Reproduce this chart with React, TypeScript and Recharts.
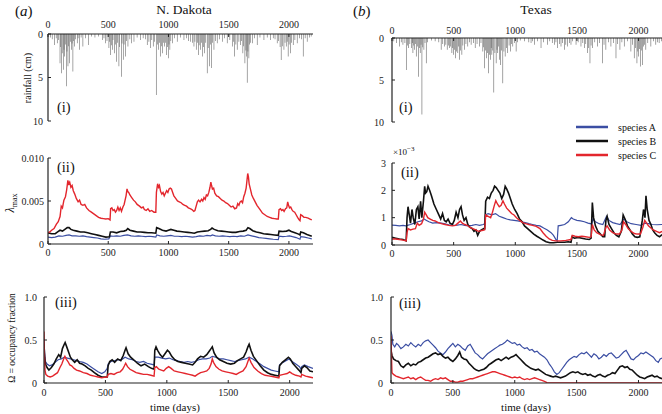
import React from 'react';
import { BarChart, Bar, LineChart, Line, XAxis, YAxis } from 'recharts';

type Pt = [number, number];

const dayTicks = [0, 500, 1000, 1500, 2000];
const rainTicks = [0, 5, 10];
const lambdaNDTicks = [0, 5, 10]; // in units of 1e-3
const lambdaTXTicks = [0, 1, 2, 3]; // in units of 1e-3
const omegaTicks = [0, 0.5, 1];

const species = [
  { key: 'a', name: 'species A', color: '#3b4ea3', width: 1.2 },
  { key: 'b', name: 'species B', color: '#111111', width: 1.6 },
  { key: 'c', name: 'species C', color: '#e3262d', width: 1.4 },
];

// daily rainfall events [day, cm]
const rainND: Pt[] = [
  [20, 0.4], [35, 0.6], [55, 1.25], [68, 0.5], [77, 1.05], [88, 0.7], [100, 3.35], [105, 1.5], [111, 4.5], [118, 2.2],
  [127, 4.1], [133, 1.8], [138, 2.6], [145, 1.2], [152, 6.0], [158, 2.0], [166, 3.7], [172, 1.4], [180, 3.35], [187, 0.9],
  [194, 1.8], [200, 1.1], [207, 4.3], [214, 0.8], [221, 1.45], [230, 0.6], [243, 1.05], [250, 0.5], [263, 1.8], [275, 0.4],
  [290, 1.45], [310, 0.5], [335, 1.25], [360, 0.3], [390, 0.4], [420, 0.3], [451, 0.7], [465, 0.5], [479, 1.05], [490, 0.8],
  [506, 1.6], [512, 0.9], [520, 2.4], [527, 1.3], [534, 1.8], [540, 0.7], [553, 2.2], [560, 1.2], [570, 3.2], [578, 1.0],
  [589, 3.7], [595, 1.5], [609, 4.9], [615, 1.1], [625, 2.95], [632, 1.2], [645, 2.6], [652, 0.8], [664, 1.45], [680, 0.6],
  [692, 1.05], [714, 0.9], [740, 0.4], [769, 0.7], [790, 0.5], [810, 0.6], [824, 1.25], [838, 0.9], [852, 1.6], [862, 0.7],
  [874, 1.45], [885, 0.9], [899, 7.0], [908, 1.2], [916, 1.8], [925, 1.0], [935, 2.6], [942, 1.4], [949, 2.2], [958, 1.0],
  [968, 1.45], [976, 1.0], [985, 2.4], [992, 1.5], [999, 2.8], [1005, 1.2], [1012, 1.8], [1020, 0.8], [1032, 1.05], [1050, 0.5],
  [1073, 0.9], [1100, 0.4], [1129, 0.7], [1150, 0.5], [1165, 0.8], [1184, 0.9], [1198, 1.0], [1212, 1.45], [1220, 0.9], [1231, 1.8],
  [1240, 1.0], [1248, 2.4], [1255, 1.3], [1267, 1.8], [1275, 1.0], [1284, 2.6], [1292, 1.5], [1300, 2.2], [1310, 1.0], [1322, 4.5],
  [1330, 1.6], [1342, 3.7], [1350, 1.2], [1358, 3.9], [1366, 1.0], [1378, 1.8], [1390, 0.8], [1405, 1.05], [1425, 0.6], [1447, 0.9],
  [1465, 0.5], [1488, 1.05], [1510, 0.7], [1530, 1.45], [1540, 0.9], [1549, 2.6], [1560, 1.2], [1571, 1.8], [1585, 0.9], [1599, 1.25],
  [1608, 0.8], [1618, 2.2], [1625, 1.4], [1635, 3.35], [1643, 1.9], [1648, 2.6], [1654, 5.6], [1660, 2.0], [1668, 2.8], [1675, 1.2],
  [1682, 1.0], [1696, 1.05], [1715, 0.5], [1737, 1.25], [1760, 0.4], [1793, 0.7], [1820, 0.4], [1848, 0.7], [1870, 0.5], [1885, 0.6],
  [1903, 1.05], [1915, 0.8], [1927, 1.5], [1936, 3.0], [1945, 1.4], [1959, 1.8], [1968, 1.0], [1978, 1.45], [1986, 0.9], [1994, 2.6],
  [2002, 1.2], [2014, 2.2], [2022, 1.0], [2036, 1.25], [2050, 0.7], [2069, 1.05], [2090, 0.5], [2105, 0.6], [2119, 2.6], [2135, 0.5],
  [2152, 0.9], [2170, 0.4], [2185, 0.3],
];

const rainTX: Pt[] = [
  [15, 0.4], [35, 0.6], [62, 1.0], [75, 0.5], [89, 0.8], [105, 0.6], [116, 3.8], [125, 0.9], [135, 1.2], [145, 0.7],
  [157, 1.2], [165, 0.6], [170, 1.8], [177, 0.9], [184, 1.4], [190, 0.7], [197, 2.2], [205, 1.0], [216, 4.6], [222, 1.2],
  [229, 1.8], [236, 0.8], [243, 9.1], [250, 1.1], [259, 1.4], [268, 0.6], [278, 3.0], [290, 0.5], [320, 0.3], [350, 0.4],
  [380, 0.5], [399, 1.4], [412, 0.7], [426, 1.0], [437, 0.8], [448, 1.4], [458, 0.9], [467, 1.2], [476, 1.0], [486, 1.8],
  [492, 1.2], [499, 2.0], [507, 1.4], [516, 2.4], [524, 1.6], [534, 1.8], [541, 1.0], [548, 2.6], [556, 1.5], [567, 2.0],
  [575, 0.9], [588, 1.4], [600, 0.7], [615, 1.0], [628, 0.5], [642, 0.8], [660, 0.6], [675, 1.2], [690, 0.7], [710, 1.0],
  [722, 0.6], [737, 1.6], [744, 1.1], [750, 3.6], [758, 1.5], [767, 2.4], [775, 1.8], [783, 4.2], [791, 2.0], [799, 2.6],
  [805, 1.2], [810, 2.0], [818, 1.5], [826, 6.5], [835, 1.8], [845, 3.0], [852, 1.4], [858, 1.8], [866, 1.0], [873, 2.6],
  [880, 3.2], [890, 1.5], [899, 5.4], [908, 1.6], [918, 2.2], [928, 1.2], [939, 1.8], [950, 0.9], [961, 1.6], [970, 0.7],
  [980, 1.0], [992, 0.6], [1007, 1.6], [1020, 0.5], [1040, 0.3], [1075, 0.4], [1110, 0.5], [1128, 0.6], [1140, 0.4], [1155, 0.8],
  [1180, 0.4], [1209, 1.2], [1230, 0.5], [1263, 0.8], [1280, 0.4], [1300, 0.6], [1317, 0.8], [1330, 0.5], [1344, 1.2], [1358, 0.7],
  [1371, 1.0], [1385, 0.6], [1398, 1.4], [1410, 0.8], [1425, 1.0], [1440, 0.6], [1452, 0.8], [1465, 0.4], [1493, 0.8], [1510, 0.5],
  [1533, 1.0], [1548, 0.6], [1560, 1.2], [1572, 0.7], [1587, 1.8], [1596, 1.2], [1606, 3.0], [1615, 0.9], [1628, 1.2], [1645, 0.5],
  [1668, 1.0], [1685, 0.6], [1708, 3.0], [1720, 0.8], [1735, 1.4], [1755, 0.5], [1776, 1.0], [1795, 0.6], [1817, 2.4], [1830, 0.7],
  [1849, 1.4], [1865, 0.5], [1884, 1.0], [1910, 0.4], [1938, 1.6], [1950, 0.8], [1965, 2.4], [1975, 1.2], [1987, 3.0], [1994, 1.6],
  [2000, 2.2], [2007, 1.3], [2014, 3.4], [2022, 1.5], [2032, 3.2], [2040, 1.0], [2050, 0.8], [2059, 1.4], [2075, 0.6], [2100, 1.0],
  [2120, 0.4], [2140, 0.8], [2155, 0.5], [2167, 0.6], [2185, 0.4],
];

// lambda_max, N. Dakota (x 1e-3)
const lamND_A: Pt[] = [
  [0, 0.8], [30, 0.75], [60, 0.8], [90, 0.95], [120, 0.9], [150, 1.0], [175, 1.05], [200, 0.95], [230, 0.95], [260, 0.9],
  [290, 0.95], [320, 0.85], [350, 0.8], [380, 0.75], [410, 0.7], [440, 0.6], [470, 0.55], [505, 0.6], [518, 0.95], [540, 0.9],
  [570, 0.95], [600, 0.9], [630, 1.0], [660, 1.05], [690, 0.95], [720, 0.9], [750, 0.95], [780, 0.9], [810, 0.85], [840, 0.9],
  [870, 0.85], [895, 0.8], [902, 1.05], [930, 0.95], [960, 0.9], [990, 0.95], [1020, 1.0], [1050, 0.9], [1080, 0.9], [1110, 0.85],
  [1140, 0.9], [1170, 0.85], [1200, 0.8], [1230, 0.85], [1260, 0.95], [1290, 0.9], [1320, 1.0], [1350, 0.95], [1365, 1.05], [1390, 0.95],
  [1420, 0.9], [1450, 0.95], [1480, 0.9], [1510, 0.85], [1540, 0.9], [1570, 0.85], [1600, 0.95], [1630, 0.9], [1660, 1.05], [1690, 0.95],
  [1720, 0.85], [1750, 0.75], [1780, 0.7], [1810, 0.65], [1840, 0.6], [1870, 0.55], [1912, 0.5], [1918, 0.9], [1950, 0.85], [1980, 0.9],
  [2005, 0.95], [2030, 0.85], [2060, 0.75], [2092, 0.55], [2098, 0.85], [2130, 0.8], [2160, 0.7], [2190, 0.6],
];
const lamND_B: Pt[] = [
  [0, 1.3], [30, 1.2], [60, 1.2], [80, 1.4], [100, 1.6], [120, 1.5], [140, 1.7], [160, 1.9], [175, 1.9], [190, 1.7],
  [210, 1.6], [240, 1.5], [270, 1.4], [300, 1.4], [330, 1.3], [360, 1.2], [390, 1.1], [420, 1.0], [450, 0.9], [480, 0.8],
  [510, 0.85], [518, 1.4], [540, 1.4], [570, 1.3], [600, 1.45], [630, 1.5], [650, 1.6], [662, 1.8], [680, 1.6], [710, 1.5],
  [740, 1.4], [770, 1.4], [800, 1.35], [830, 1.3], [860, 1.3], [895, 1.25], [902, 1.9], [920, 1.8], [950, 1.6], [980, 1.5],
  [1000, 1.6], [1020, 1.7], [1045, 1.6], [1070, 1.5], [1100, 1.45], [1130, 1.4], [1160, 1.35], [1190, 1.3], [1215, 1.25], [1240, 1.4],
  [1270, 1.45], [1300, 1.5], [1330, 1.55], [1350, 1.7], [1362, 1.85], [1380, 1.7], [1410, 1.55], [1440, 1.5], [1470, 1.45], [1500, 1.4],
  [1530, 1.35], [1560, 1.35], [1590, 1.45], [1620, 1.5], [1645, 1.6], [1660, 1.9], [1675, 1.8], [1700, 1.55], [1730, 1.4], [1760, 1.3],
  [1790, 1.2], [1820, 1.15], [1850, 1.1], [1880, 1.05], [1912, 1.0], [1918, 1.5], [1950, 1.45], [1980, 1.5], [2000, 1.6], [2020, 1.45],
  [2050, 1.3], [2080, 1.15], [2092, 1.05], [2098, 1.4], [2120, 1.3], [2150, 1.1], [2190, 0.9],
];
const lamND_C: Pt[] = [
  [0, 1.3], [15, 1.4], [30, 1.6], [50, 1.8], [70, 2.3], [85, 2.6], [100, 3.2], [110, 4.4], [120, 4.2], [132, 5.1],
  [145, 5.5], [155, 6.3], [165, 7.4], [172, 7.0], [180, 7.2], [190, 6.6], [200, 6.8], [210, 6.2], [222, 5.8], [235, 5.3],
  [250, 4.9], [262, 5.1], [275, 4.6], [290, 4.5], [305, 4.6], [320, 4.2], [340, 3.9], [360, 3.7], [380, 3.5], [400, 3.3],
  [420, 3.1], [440, 3.0], [460, 2.95], [480, 2.9], [500, 2.95], [515, 2.8], [520, 4.1], [530, 4.2], [540, 3.9], [550, 4.0],
  [560, 3.7], [570, 3.9], [580, 4.3], [590, 3.9], [600, 4.2], [610, 3.8], [622, 4.3], [632, 4.6], [640, 5.1], [648, 5.6],
  [656, 6.4], [662, 6.1], [670, 6.0], [680, 5.7], [695, 5.4], [710, 5.1], [725, 4.9], [740, 4.6], [760, 4.4], [775, 4.2],
  [790, 4.3], [800, 4.0], [815, 3.9], [830, 4.1], [845, 3.8], [860, 3.9], [880, 3.7], [895, 3.7], [900, 6.0], [910, 7.0],
  [918, 6.6], [925, 6.8], [935, 6.1], [945, 5.8], [955, 6.0], [965, 5.6], [975, 5.9], [985, 6.2], [995, 6.0], [1005, 6.4],
  [1015, 6.5], [1025, 6.4], [1035, 6.0], [1045, 5.6], [1060, 5.3], [1075, 5.0], [1090, 4.9], [1105, 4.8], [1120, 4.6], [1135, 4.5],
  [1150, 4.4], [1165, 4.2], [1180, 4.1], [1195, 4.0], [1210, 3.8], [1220, 3.9], [1230, 4.4], [1240, 4.9], [1250, 5.1], [1262, 4.9],
  [1275, 5.2], [1285, 5.0], [1295, 5.4], [1305, 5.2], [1315, 5.7], [1325, 5.6], [1335, 6.0], [1345, 6.6], [1352, 7.2], [1358, 6.8],
  [1365, 6.4], [1375, 6.5], [1385, 5.9], [1400, 5.6], [1415, 5.5], [1430, 5.3], [1445, 5.1], [1460, 5.0], [1475, 4.8], [1490, 4.7],
  [1505, 4.5], [1520, 4.3], [1535, 4.4], [1550, 4.1], [1565, 4.2], [1575, 4.7], [1585, 4.5], [1595, 4.9], [1605, 5.0], [1615, 4.8],
  [1625, 5.5], [1635, 5.9], [1645, 6.5], [1652, 7.4], [1658, 8.2], [1664, 7.8], [1670, 7.0], [1680, 6.4], [1692, 5.7], [1705, 5.3],
  [1720, 4.9], [1735, 4.5], [1750, 4.2], [1765, 3.9], [1780, 3.6], [1800, 3.4], [1820, 3.2], [1840, 3.1], [1860, 3.0], [1880, 2.95],
  [1900, 2.9], [1912, 2.9], [1918, 4.0], [1930, 4.1], [1940, 3.9], [1950, 4.0], [1960, 3.8], [1972, 4.1], [1982, 4.2], [1990, 4.9],
  [1997, 4.5], [2005, 4.2], [2015, 4.3], [2025, 4.0], [2035, 3.8], [2048, 3.7], [2060, 3.4], [2072, 3.1], [2085, 2.8], [2092, 2.7],
  [2098, 3.4], [2110, 3.3], [2125, 3.1], [2140, 3.1], [2160, 3.0], [2175, 2.9], [2190, 2.8],
];

// occupancy fraction, N. Dakota
const omND_A: Pt[] = [
  [0, 0.5], [5, 0.35], [12, 0.25], [25, 0.22], [45, 0.2], [65, 0.21], [90, 0.24], [115, 0.27], [140, 0.28], [165, 0.3],
  [190, 0.29], [215, 0.28], [240, 0.27], [265, 0.26], [290, 0.25], [320, 0.24], [350, 0.22], [380, 0.19], [410, 0.16], [440, 0.13],
  [470, 0.11], [495, 0.13], [515, 0.17], [522, 0.22], [545, 0.25], [575, 0.26], [600, 0.27], [630, 0.27], [660, 0.3], [690, 0.28],
  [720, 0.27], [750, 0.25], [780, 0.24], [810, 0.25], [840, 0.23], [870, 0.22], [896, 0.21], [902, 0.3], [930, 0.3], [960, 0.29],
  [990, 0.28], [1020, 0.29], [1050, 0.27], [1080, 0.26], [1110, 0.25], [1140, 0.24], [1170, 0.25], [1200, 0.24], [1230, 0.25], [1260, 0.27],
  [1290, 0.28], [1320, 0.28], [1350, 0.29], [1370, 0.31], [1400, 0.3], [1430, 0.28], [1460, 0.28], [1490, 0.27], [1520, 0.26], [1550, 0.25],
  [1580, 0.26], [1610, 0.27], [1640, 0.28], [1670, 0.3], [1700, 0.28], [1730, 0.25], [1760, 0.22], [1790, 0.19], [1820, 0.17], [1850, 0.15],
  [1880, 0.14], [1912, 0.13], [1918, 0.21], [1945, 0.24], [1970, 0.26], [1995, 0.28], [2020, 0.25], [2050, 0.22], [2080, 0.19], [2092, 0.16],
  [2098, 0.19], [2120, 0.21], [2150, 0.19], [2190, 0.17],
];
const omND_B: Pt[] = [
  [0, 0.45], [5, 0.3], [12, 0.22], [25, 0.18], [40, 0.15], [60, 0.18], [80, 0.22], [100, 0.28], [120, 0.33], [135, 0.3],
  [150, 0.4], [165, 0.45], [172, 0.47], [185, 0.42], [200, 0.36], [215, 0.3], [230, 0.27], [250, 0.24], [270, 0.27], [290, 0.23],
  [310, 0.22], [335, 0.2], [360, 0.17], [385, 0.15], [410, 0.12], [440, 0.09], [470, 0.07], [500, 0.07], [515, 0.07], [522, 0.2],
  [535, 0.25], [555, 0.27], [575, 0.24], [600, 0.28], [625, 0.26], [645, 0.32], [660, 0.38], [668, 0.41], [685, 0.34], [705, 0.3],
  [730, 0.27], [760, 0.23], [790, 0.2], [820, 0.22], [850, 0.19], [875, 0.17], [896, 0.16], [902, 0.38], [912, 0.42], [925, 0.38],
  [945, 0.33], [965, 0.3], [985, 0.34], [1005, 0.38], [1020, 0.36], [1040, 0.31], [1065, 0.27], [1090, 0.25], [1120, 0.24], [1150, 0.23],
  [1180, 0.22], [1210, 0.21], [1230, 0.24], [1250, 0.28], [1275, 0.31], [1300, 0.3], [1325, 0.33], [1345, 0.37], [1360, 0.4], [1370, 0.42],
  [1385, 0.35], [1405, 0.3], [1430, 0.27], [1460, 0.25], [1490, 0.23], [1520, 0.22], [1550, 0.23], [1575, 0.26], [1600, 0.28], [1625, 0.3],
  [1645, 0.36], [1660, 0.42], [1670, 0.45], [1685, 0.38], [1705, 0.31], [1730, 0.26], [1760, 0.2], [1790, 0.15], [1820, 0.12], [1850, 0.1],
  [1880, 0.09], [1912, 0.08], [1918, 0.2], [1940, 0.24], [1965, 0.27], [1990, 0.3], [2005, 0.28], [2025, 0.23], [2050, 0.19], [2075, 0.15],
  [2092, 0.12], [2098, 0.17], [2120, 0.2], [2140, 0.18], [2165, 0.14], [2190, 0.13],
];
const omND_C: Pt[] = [
  [0, 0.6], [3, 0.35], [8, 0.15], [15, 0.1], [30, 0.08], [50, 0.07], [70, 0.08], [90, 0.1], [110, 0.12], [130, 0.18],
  [145, 0.22], [160, 0.28], [170, 0.31], [180, 0.28], [195, 0.25], [210, 0.21], [225, 0.2], [245, 0.17], [265, 0.15], [290, 0.14],
  [320, 0.12], [350, 0.11], [380, 0.09], [410, 0.08], [440, 0.07], [470, 0.06], [500, 0.07], [515, 0.07], [522, 0.1], [545, 0.11],
  [570, 0.1], [595, 0.12], [620, 0.13], [640, 0.16], [655, 0.2], [665, 0.23], [680, 0.19], [700, 0.16], [725, 0.14], [750, 0.12],
  [780, 0.11], [810, 0.1], [840, 0.1], [870, 0.09], [896, 0.08], [902, 0.18], [915, 0.19], [935, 0.16], [955, 0.15], [975, 0.14],
  [995, 0.17], [1015, 0.19], [1035, 0.17], [1060, 0.14], [1090, 0.13], [1120, 0.12], [1150, 0.11], [1180, 0.1], [1210, 0.09], [1230, 0.08],
  [1250, 0.1], [1275, 0.12], [1300, 0.13], [1325, 0.14], [1345, 0.17], [1360, 0.22], [1370, 0.28], [1380, 0.24], [1400, 0.19], [1425, 0.16],
  [1450, 0.14], [1480, 0.13], [1510, 0.12], [1540, 0.11], [1565, 0.1], [1590, 0.12], [1620, 0.14], [1645, 0.19], [1660, 0.25], [1670, 0.29],
  [1685, 0.24], [1710, 0.18], [1740, 0.14], [1770, 0.11], [1800, 0.09], [1840, 0.08], [1880, 0.07], [1912, 0.06], [1918, 0.09], [1950, 0.1],
  [1980, 0.11], [2000, 0.13], [2020, 0.11], [2050, 0.09], [2080, 0.08], [2092, 0.07], [2098, 0.1], [2130, 0.08], [2160, 0.07], [2190, 0.06],
];

// lambda_max, Texas (x 1e-3)
const lamTX_A: Pt[] = [
  [0, 0.73], [30, 0.72], [60, 0.7], [90, 0.72], [110, 0.7], [125, 0.72], [150, 0.75], [180, 0.8], [210, 0.85], [240, 0.88],
  [260, 0.95], [280, 0.9], [300, 0.85], [330, 0.8], [360, 0.82], [400, 0.8], [430, 0.77], [460, 0.74], [500, 0.72], [530, 0.73],
  [560, 0.75], [590, 0.72], [620, 0.7], [650, 0.72], [680, 0.75], [710, 0.72], [740, 0.75], [752, 0.78], [758, 1.1], [780, 1.15],
  [810, 1.1], [840, 1.15], [870, 1.05], [900, 1.0], [930, 0.95], [960, 0.92], [990, 0.9], [1020, 0.88], [1050, 0.85], [1080, 0.82],
  [1110, 0.78], [1140, 0.75], [1170, 0.72], [1200, 0.7], [1230, 0.62], [1260, 0.55], [1290, 0.45], [1310, 0.35], [1330, 0.2], [1340, 0.15],
  [1348, 0.7], [1370, 0.72], [1400, 0.75], [1430, 0.85], [1455, 1.0], [1470, 0.95], [1500, 0.9], [1530, 0.88], [1560, 0.85], [1590, 0.8],
  [1620, 0.77], [1630, 0.95], [1650, 0.85], [1680, 0.78], [1710, 0.75], [1740, 1.05], [1760, 0.9], [1790, 0.82], [1820, 0.78], [1850, 0.75],
  [1880, 0.95], [1905, 0.85], [1940, 0.78], [1980, 0.75], [2020, 0.72], [2050, 0.8], [2080, 0.78], [2110, 0.75], [2150, 0.74], [2190, 0.75],
];
const lamTX_B: Pt[] = [
  [0, 0.28], [30, 0.25], [60, 0.22], [90, 0.2], [115, 0.15], [122, 1.0], [130, 1.4], [140, 1.1], [150, 0.8], [162, 1.3],
  [172, 1.0], [185, 0.75], [198, 1.3], [210, 1.4], [220, 0.95], [232, 1.6], [242, 1.0], [255, 1.6], [265, 2.15], [272, 1.9],
  [282, 1.95], [292, 2.15], [305, 2.0], [320, 1.8], [340, 1.5], [360, 1.3], [380, 1.1], [395, 0.95], [410, 1.15], [425, 0.9],
  [440, 0.85], [455, 0.95], [470, 0.8], [490, 0.75], [505, 0.9], [520, 1.2], [535, 1.0], [548, 1.3], [560, 1.4], [572, 1.1],
  [585, 0.9], [600, 1.0], [615, 0.75], [630, 0.65], [650, 0.6], [665, 0.5], [680, 0.55], [695, 0.35], [710, 0.5], [725, 0.55],
  [745, 0.6], [752, 0.6], [760, 1.6], [775, 1.75], [790, 1.7], [805, 1.9], [820, 2.0], [832, 2.15], [845, 2.1], [860, 2.0],
  [875, 1.9], [890, 1.7], [905, 1.85], [918, 2.15], [930, 2.05], [945, 1.9], [960, 1.7], [975, 1.5], [995, 1.3], [1015, 1.15],
  [1035, 0.95], [1055, 0.85], [1075, 0.7], [1100, 0.6], [1125, 0.5], [1150, 0.4], [1175, 0.32], [1200, 0.25], [1225, 0.18], [1250, 0.12],
  [1280, 0.08], [1310, 0.08], [1340, 0.1], [1370, 0.1], [1400, 0.1], [1430, 0.12], [1452, 0.1], [1460, 0.3], [1480, 0.25], [1510, 0.28],
  [1540, 0.25], [1570, 0.22], [1600, 0.2], [1615, 0.25], [1625, 1.55], [1635, 1.0], [1650, 0.7], [1670, 0.5], [1690, 0.4], [1710, 0.3],
  [1725, 0.3], [1735, 0.9], [1745, 1.05], [1760, 0.75], [1780, 0.6], [1800, 0.45], [1820, 0.35], [1840, 0.3], [1860, 0.5], [1875, 1.1],
  [1890, 0.95], [1910, 0.7], [1930, 0.55], [1950, 0.4], [1970, 0.3], [1990, 0.28], [2010, 0.3], [2030, 0.9], [2040, 1.3], [2052, 1.0],
  [2060, 1.8], [2070, 1.3], [2085, 0.9], [2100, 0.75], [2115, 0.55], [2130, 0.45], [2150, 0.35], [2170, 0.3], [2190, 0.38],
];
const lamTX_C: Pt[] = [
  [0, 0.22], [30, 0.22], [60, 0.2], [90, 0.18], [115, 0.15], [122, 0.45], [130, 0.6], [150, 0.55], [170, 0.58], [190, 0.6],
  [205, 0.8], [220, 0.72], [240, 0.78], [255, 0.95], [265, 1.2], [278, 1.1], [290, 1.0], [310, 0.95], [330, 0.9], [350, 0.88],
  [375, 0.82], [400, 0.78], [430, 0.75], [460, 0.72], [490, 0.7], [515, 0.72], [535, 0.8], [555, 0.88], [570, 0.8], [590, 0.75],
  [610, 0.72], [630, 0.65], [655, 0.6], [680, 0.55], [700, 0.5], [720, 0.52], [745, 0.55], [752, 0.56], [760, 1.1], [780, 1.05],
  [800, 1.0], [815, 1.2], [830, 1.45], [842, 1.62], [855, 1.5], [870, 1.4], [885, 1.45], [900, 1.62], [912, 1.5], [930, 1.35],
  [950, 1.25], [970, 1.15], [990, 1.1], [1010, 1.0], [1035, 0.9], [1060, 0.82], [1085, 0.78], [1110, 0.75], [1140, 0.72], [1170, 0.68],
  [1200, 0.6], [1225, 0.45], [1250, 0.32], [1275, 0.22], [1300, 0.17], [1330, 0.15], [1370, 0.15], [1410, 0.17], [1452, 0.2], [1462, 0.35],
  [1485, 0.32], [1510, 0.3], [1540, 0.32], [1570, 0.3], [1600, 0.28], [1615, 0.3], [1625, 0.75], [1640, 0.55], [1660, 0.45], [1690, 0.38],
  [1715, 0.35], [1735, 0.65], [1745, 0.7], [1765, 0.55], [1790, 0.45], [1820, 0.4], [1845, 0.4], [1865, 0.55], [1878, 0.85], [1895, 0.75],
  [1915, 0.6], [1940, 0.5], [1965, 0.42], [1990, 0.4], [2015, 0.4], [2035, 0.65], [2050, 0.9], [2065, 0.8], [2080, 0.7], [2100, 0.62],
  [2120, 0.55], [2145, 0.5], [2170, 0.45], [2190, 0.5],
];

// occupancy fraction, Texas
const omTX_A: Pt[] = [
  [0, 0.6], [8, 0.55], [15, 0.45], [30, 0.42], [45, 0.46], [60, 0.44], [80, 0.4], [100, 0.42], [120, 0.45], [140, 0.43],
  [160, 0.47], [180, 0.44], [200, 0.42], [220, 0.45], [240, 0.43], [260, 0.47], [280, 0.49], [300, 0.5], [320, 0.47], [340, 0.44],
  [360, 0.41], [380, 0.37], [400, 0.35], [420, 0.33], [440, 0.36], [460, 0.4], [480, 0.43], [500, 0.46], [520, 0.42], [540, 0.45],
  [560, 0.43], [580, 0.4], [600, 0.38], [620, 0.43], [640, 0.45], [660, 0.4], [680, 0.35], [700, 0.33], [720, 0.3], [740, 0.28],
  [760, 0.31], [780, 0.34], [800, 0.36], [820, 0.38], [840, 0.4], [860, 0.42], [880, 0.44], [900, 0.45], [920, 0.47], [940, 0.5],
  [960, 0.48], [980, 0.46], [1000, 0.47], [1020, 0.44], [1040, 0.45], [1060, 0.42], [1080, 0.4], [1100, 0.41], [1120, 0.38], [1140, 0.39],
  [1160, 0.36], [1180, 0.37], [1200, 0.34], [1220, 0.32], [1240, 0.3], [1260, 0.27], [1280, 0.22], [1300, 0.18], [1320, 0.13], [1340, 0.1],
  [1360, 0.12], [1380, 0.16], [1400, 0.2], [1420, 0.24], [1440, 0.27], [1460, 0.29], [1480, 0.31], [1500, 0.3], [1520, 0.33], [1540, 0.35],
  [1560, 0.34], [1580, 0.36], [1600, 0.33], [1620, 0.3], [1640, 0.34], [1660, 0.32], [1680, 0.28], [1700, 0.3], [1720, 0.33], [1740, 0.31],
  [1760, 0.34], [1780, 0.35], [1800, 0.32], [1820, 0.29], [1840, 0.3], [1860, 0.33], [1880, 0.36], [1900, 0.38], [1920, 0.33], [1940, 0.28],
  [1960, 0.27], [1980, 0.3], [2000, 0.32], [2020, 0.35], [2040, 0.34], [2060, 0.36], [2080, 0.34], [2100, 0.32], [2120, 0.3], [2140, 0.26],
  [2160, 0.24], [2175, 0.28], [2190, 0.29],
];
const omTX_B: Pt[] = [
  [0, 0.38], [8, 0.32], [20, 0.28], [40, 0.26], [60, 0.25], [80, 0.2], [100, 0.18], [120, 0.21], [140, 0.23], [160, 0.2],
  [180, 0.22], [200, 0.21], [220, 0.24], [240, 0.25], [260, 0.27], [280, 0.29], [300, 0.3], [320, 0.32], [340, 0.34], [360, 0.35],
  [380, 0.33], [400, 0.34], [420, 0.31], [440, 0.29], [460, 0.3], [480, 0.27], [500, 0.25], [520, 0.28], [540, 0.32], [555, 0.36],
  [570, 0.3], [590, 0.28], [610, 0.27], [630, 0.23], [650, 0.2], [670, 0.17], [690, 0.15], [710, 0.14], [730, 0.15], [750, 0.16],
  [770, 0.18], [790, 0.21], [810, 0.23], [830, 0.25], [850, 0.27], [870, 0.28], [890, 0.26], [910, 0.28], [930, 0.3], [950, 0.28],
  [970, 0.3], [990, 0.31], [1010, 0.33], [1030, 0.3], [1050, 0.27], [1070, 0.24], [1090, 0.21], [1110, 0.19], [1130, 0.17], [1150, 0.16],
  [1170, 0.15], [1190, 0.16], [1210, 0.14], [1230, 0.12], [1250, 0.1], [1270, 0.09], [1290, 0.08], [1310, 0.07], [1330, 0.08], [1350, 0.07],
  [1370, 0.06], [1390, 0.07], [1410, 0.08], [1430, 0.1], [1450, 0.12], [1470, 0.13], [1490, 0.12], [1510, 0.13], [1530, 0.11], [1550, 0.1],
  [1570, 0.11], [1590, 0.09], [1610, 0.1], [1630, 0.08], [1650, 0.07], [1670, 0.09], [1690, 0.1], [1710, 0.08], [1730, 0.07], [1750, 0.09],
  [1770, 0.1], [1790, 0.12], [1810, 0.11], [1830, 0.15], [1850, 0.19], [1870, 0.2], [1890, 0.18], [1910, 0.19], [1930, 0.16], [1950, 0.15],
  [1970, 0.12], [1990, 0.09], [2010, 0.07], [2030, 0.06], [2050, 0.05], [2070, 0.07], [2090, 0.08], [2110, 0.09], [2130, 0.07], [2150, 0.08],
  [2170, 0.06], [2190, 0.05],
];
const omTX_C: Pt[] = [
  [0, 0.55], [4, 0.3], [8, 0.12], [20, 0.1], [40, 0.08], [60, 0.07], [80, 0.06], [100, 0.05], [120, 0.06], [140, 0.07],
  [160, 0.05], [180, 0.06], [200, 0.04], [220, 0.06], [240, 0.07], [260, 0.05], [280, 0.03], [300, 0.03], [320, 0.02], [340, 0.04],
  [360, 0.05], [380, 0.04], [400, 0.06], [420, 0.05], [440, 0.06], [460, 0.04], [480, 0.02], [500, 0.02], [520, 0.01], [540, 0.01],
  [560, 0.02], [580, 0.02], [600, 0.03], [620, 0.04], [640, 0.05], [660, 0.05], [680, 0.06], [700, 0.07], [720, 0.08], [740, 0.09],
  [760, 0.1], [780, 0.11], [800, 0.12], [820, 0.13], [840, 0.13], [860, 0.12], [880, 0.11], [900, 0.1], [920, 0.09], [940, 0.08],
  [960, 0.07], [980, 0.06], [1000, 0.07], [1020, 0.06], [1040, 0.07], [1060, 0.05], [1080, 0.04], [1100, 0.05], [1120, 0.04], [1140, 0.05],
  [1160, 0.06], [1180, 0.05], [1200, 0.04], [1220, 0.03], [1240, 0.02], [1260, 0.005], [1280, 0], [2190, 0],
];

const serif = '"Liberation Serif", "Times New Roman", serif';
const tickFont = { fontSize: 10, fontFamily: serif, fill: '#222' };
const axisLine = { stroke: '#222', strokeWidth: 1.2 };

function rainRows(pts: Pt[]) {
  return pts.map(([d, cm]) => ({ d, cm }));
}

function mergeRows(a: Pt[], b: Pt[], c: Pt[]) {
  const map = new Map<number, Record<string, number>>();
  const add = (pts: Pt[], key: string) =>
    pts.forEach(([d, v]) => {
      const row = map.get(d) ?? { d };
      row[key] = v;
      map.set(d, row);
    });
  add(a, 'a');
  add(b, 'b');
  add(c, 'c');
  return [...map.values()].sort((p, q) => p.d - q.d);
}

const fmtLamND = (v: number) => (v === 0 ? '0' : (v / 1000).toFixed(3));
const fmtOmega = (v: number) => (v === 0 ? '0' : v.toFixed(1));
const fmtInt = (v: number) => String(v);

interface RainProps {
  data: Pt[];
  left: number;
  width: number;
  margin: { top: number; right: number; bottom: number; left: number };
  xHeight: number;
  xTickMargin: number;
  yWidth: number;
  yTickMargin: number;
  xMax: number;
}

const RainPanel: React.FC<RainProps> = (p) => (
  <div style={{ position: 'absolute', left: p.left, top: 0 }}>
    <BarChart width={p.width} height={130} data={rainRows(p.data)} margin={p.margin} barSize={1}>
      <XAxis
        dataKey="d"
        type="number"
        orientation="top"
        domain={[0, p.xMax]}
        ticks={dayTicks}
        interval={0}
        height={p.xHeight}
        tick={tickFont}
        tickSize={-3}
        tickMargin={p.xTickMargin}
        axisLine={axisLine}
        tickLine={{ stroke: '#222' }}
        allowDataOverflow
      />
      <YAxis
        type="number"
        domain={[0, 10]}
        reversed
        ticks={rainTicks}
        interval={0}
        width={p.yWidth}
        tick={tickFont}
        tickSize={-3}
        tickMargin={p.yTickMargin}
        axisLine={axisLine}
        tickLine={{ stroke: '#222' }}
      />
      <Bar dataKey="cm" fill="#5a5a5a" isAnimationActive={false} />
    </BarChart>
  </div>
);

interface LineProps {
  series: [Pt[], Pt[], Pt[]];
  left: number;
  top: number;
  width: number;
  height: number;
  margin: { top: number; right: number; bottom: number; left: number };
  xHeight: number;
  xTickMargin: number;
  xMax: number;
  yWidth: number;
  yTickMargin: number;
  yMax: number;
  yTicks: number[];
  yFormat: (v: number) => string;
}

const LinePanel: React.FC<LineProps> = (p) => (
  <div style={{ position: 'absolute', left: p.left, top: p.top }}>
    <LineChart width={p.width} height={p.height} data={mergeRows(...p.series)} margin={p.margin}>
      <XAxis
        dataKey="d"
        type="number"
        domain={[0, p.xMax]}
        ticks={dayTicks}
        interval={0}
        height={p.xHeight}
        tick={tickFont}
        tickSize={-3}
        tickMargin={p.xTickMargin}
        axisLine={axisLine}
        tickLine={{ stroke: '#222' }}
        allowDataOverflow
      />
      <YAxis
        type="number"
        domain={[0, p.yMax]}
        ticks={p.yTicks}
        interval={0}
        width={p.yWidth}
        tick={tickFont}
        tickSize={-3}
        tickMargin={p.yTickMargin}
        tickFormatter={p.yFormat}
        axisLine={axisLine}
        tickLine={{ stroke: '#222' }}
        allowDataOverflow
      />
      {species.map((s) => (
        <Line
          key={s.key}
          dataKey={s.key}
          type="linear"
          stroke={s.color}
          strokeWidth={s.width}
          dot={false}
          connectNulls
          isAnimationActive={false}
        />
      ))}
    </LineChart>
  </div>
);

const Labels: React.FC = () => (
  <svg
    width={662}
    height={414}
    style={{ position: 'absolute', left: 0, top: 0, pointerEvents: 'none' }}
    fontFamily={serif}
    fill="#111"
  >
    <text x={15} y={16} fontSize={15}>
      (<tspan fontStyle="italic">a</tspan>)
    </text>
    <text x={184} y={14} fontSize={13.5} textAnchor="middle">N. Dakota</text>
    <text x={353} y={16} fontSize={15}>
      (<tspan fontStyle="italic">b</tspan>)
    </text>
    <text x={536} y={14} fontSize={13.5} textAnchor="middle">Texas</text>

    <text transform="translate(31,78) rotate(-90)" fontSize={10} textAnchor="middle">rainfall (cm)</text>
    <text transform="translate(14,203) rotate(-90)" fontSize={12} textAnchor="middle">
      <tspan fontStyle="italic">λ</tspan>
      <tspan fontSize={8} dy={3}>max</tspan>
    </text>
    <text transform="translate(15,338) rotate(-90)" fontSize={9.5} textAnchor="middle">Ω = occupancy fraction</text>

    <text x={57} y={112} fontSize={14.5}>(i)</text>
    <text x={57} y={172} fontSize={14.5}>(ii)</text>
    <text x={55} y={307} fontSize={14.5}>(iii)</text>
    <text x={399} y={112} fontSize={14.5}>(i)</text>
    <text x={401} y={177} fontSize={14.5}>(ii)</text>
    <text x={399} y={308} fontSize={14.5}>(iii)</text>

    <text x={393} y={155} fontSize={9}>
      ×10<tspan fontSize={7} dy={-4}>−3</tspan>
    </text>

    <text x={175} y={411} fontSize={11} textAnchor="middle">time (days)</text>
    <text x={526} y={411} fontSize={11} textAnchor="middle">time (days)</text>

    {species.map((s, i) => (
      <g key={s.key}>
        <line x1={576} x2={608} y1={127 + i * 14} y2={127 + i * 14} stroke={s.color} strokeWidth={2.5} />
        <text x={618} y={130.5 + i * 14} fontSize={10}>{s.name}</text>
      </g>
    ))}
  </svg>
);

export default function App() {
  return (
    <div
      style={{
        position: 'absolute',
        left: 0,
        top: 0,
        width: 662,
        height: 414,
        background: '#fff',
        overflow: 'hidden',
        fontFamily: serif,
      }}
    >
      <RainPanel
        data={rainND}
        left={0}
        width={330}
        margin={{ top: 4, right: 17, bottom: 9, left: 0 }}
        xHeight={30}
        xTickMargin={9}
        yWidth={48}
        yTickMargin={8}
        xMax={2200}
      />
      <RainPanel
        data={rainTX}
        left={331}
        width={331}
        margin={{ top: 4, right: 0, bottom: 8, left: 0 }}
        xHeight={34}
        xTickMargin={7.5}
        yWidth={61}
        yTickMargin={11}
        xMax={2190}
      />
      <LinePanel
        series={[lamND_A, lamND_B, lamND_C]}
        left={0}
        top={140}
        width={330}
        height={125}
        margin={{ top: 18, right: 17, bottom: 3, left: 0 }}
        xHeight={18}
        xTickMargin={8}
        xMax={2200}
        yWidth={48}
        yTickMargin={7}
        yMax={10}
        yTicks={lambdaNDTicks}
        yFormat={fmtLamND}
      />
      <LinePanel
        series={[lamTX_A, lamTX_B, lamTX_C]}
        left={331}
        top={140}
        width={331}
        height={125}
        margin={{ top: 23, right: 0, bottom: 2, left: 0 }}
        xHeight={18}
        xTickMargin={7.5}
        xMax={2190}
        yWidth={61}
        yTickMargin={9}
        yMax={3}
        yTicks={lambdaTXTicks}
        yFormat={fmtInt}
      />
      <LinePanel
        series={[omND_A, omND_B, omND_C]}
        left={0}
        top={280}
        width={330}
        height={130}
        margin={{ top: 17, right: 17, bottom: 2, left: 0 }}
        xHeight={25}
        xTickMargin={9}
        xMax={2190}
        yWidth={44}
        yTickMargin={10}
        yMax={1}
        yTicks={omegaTicks}
        yFormat={fmtOmega}
      />
      <LinePanel
        series={[omTX_A, omTX_B, omTX_C]}
        left={331}
        top={280}
        width={331}
        height={130}
        margin={{ top: 17, right: 0, bottom: 2, left: 0 }}
        xHeight={25}
        xTickMargin={9}
        xMax={2190}
        yWidth={60}
        yTickMargin={11}
        yMax={1}
        yTicks={omegaTicks}
        yFormat={fmtOmega}
      />
      <Labels />
    </div>
  );
}
